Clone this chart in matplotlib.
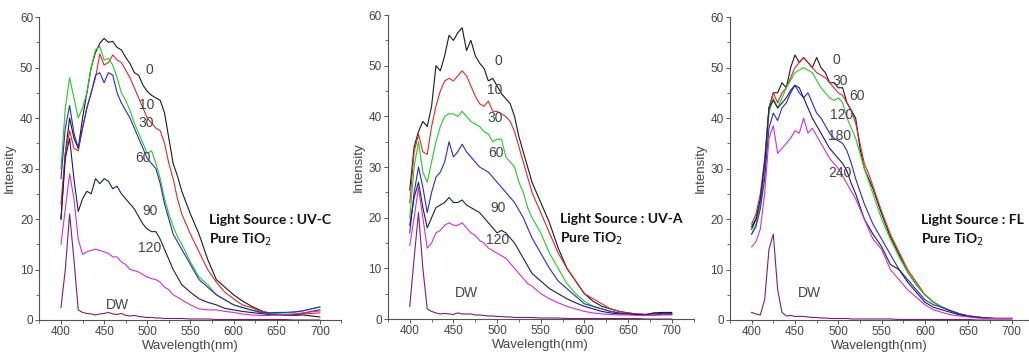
import matplotlib
matplotlib.use('agg')
import matplotlib.pyplot as plt
from matplotlib.ticker import MultipleLocator

plt.rcParams['font.family'] = ['Liberation Sans', 'DejaVu Sans']

# wavelength grid (nm) shared by all curves
wl = list(range(400, 545, 5)) + list(range(550, 710, 10))

# ---- UV-C panel ----
uvc_0 = [20, 33, 40, 36, 34, 40, 45, 50, 53, 54.8, 55.8, 55, 55.2, 54, 53.5, 52, 50.8, 49, 48.5, 46.5, 45.3, 44.5, 44, 43.5, 41, 36, 31, 28.5, 25.5,
         21, 17, 12, 8, 6.5, 5, 3.8, 2.8, 2, 1.3, 1.1, 1, 0.9, 1, 0.8, 0.6]
uvc_10 = [23, 33, 37.5, 34, 33.5, 38, 42, 45, 48, 52.7, 50.5, 51, 52.5, 51.5, 51, 49.5, 48, 46, 44, 42, 40, 39, 38, 37.5, 35, 31, 28, 24, 21,
          17, 13.5, 10, 7.5, 5.5, 4.2, 3, 2.5, 1.8, 1.5, 1.2, 1, 1, 1.2, 1.3, 1.4]
uvc_30 = [30, 42, 48, 44, 40, 42, 45, 50, 53.5, 54.2, 51.5, 51.8, 50.5, 48, 45, 43.5, 41.5, 39, 37, 35, 33, 33.5, 31, 28, 24, 21, 18.5, 16.5, 15,
          11.5, 8.5, 7, 5, 4, 3, 2.5, 2, 1.5, 1.3, 1.3, 1.4, 1.5, 1.8, 2.2, 2.5]
uvc_60 = [28, 38, 42.5, 37, 34, 38, 42, 45, 48.5, 49, 47, 49, 48.5, 45, 43, 41.5, 40, 38, 36, 34, 32, 31, 30, 27, 23, 20, 17, 15.5, 14,
          11, 8, 6.5, 5, 4, 3, 2.5, 2, 1.6, 1.4, 1.5, 1.5, 1.6, 1.8, 2.2, 2.6]
uvc_90 = [20, 32, 36, 28, 21.5, 24, 25.5, 25, 28, 27, 28, 27.5, 26, 26.5, 25, 24, 23, 22, 20.5, 19, 18, 17.5, 17.5, 16, 14, 12, 10, 8.5, 7,
          5.5, 4.2, 3.5, 3, 2.3, 2, 1.7, 1.5, 1.3, 1.1, 1, 1, 1.1, 1.3, 1.7, 2]
uvc_120 = [15, 22, 29, 24, 16, 13, 13.5, 13.8, 14, 13.8, 13.5, 13.2, 12.5, 12.5, 11.5, 11, 10, 9.8, 9.5, 9, 8.5, 8.2, 8, 7.5, 6.5, 6, 5, 4.5, 4,
           3, 2.2, 2, 2, 1.7, 1.5, 1.2, 1, 0.9, 0.9, 1, 1.1, 1.2, 1.4, 1.6, 1.8]
uvc_dw = [2.5, 10, 21, 12, 2, 1.5, 1.3, 1.2, 1, 1.2, 1.3, 1.5, 1.2, 1.1, 1.3, 0.9, 0.8, 0.9, 0.7, 0.6, 0.5, 0.5, 0.4, 0.4, 0.3, 0.3, 0.3, 0.3, 0.3,
          0.2, 0.2, 0.2, 0.1, 0.1, 0.1, 0.1, 0.1, 0.1, 0.1, 0.1, 0.1, 0, 0, 0, 0]

# ---- UV-A panel ----
uva_0 = [25.5, 34, 37, 39, 38, 42, 50, 49, 52, 56, 55, 56.5, 57.5, 53, 55, 52, 50.5, 49.5, 47, 47.5, 46, 44.5, 43.5, 42.5, 40, 36, 33, 30, 27,
         23, 19, 14, 10, 7.5, 5, 3.5, 2.5, 2, 1.5, 1.2, 1, 0.9, 1.2, 1.3, 1.3]
uva_10 = [23, 33, 36.5, 33, 32.5, 38, 42, 45, 47, 47.5, 47, 48, 49, 48, 46, 44, 42.5, 42, 43, 41, 41, 40.5, 40, 39, 37, 34, 31, 28, 25,
          21, 17, 13, 10, 7.5, 5, 4, 3, 2, 1.5, 1.2, 1, 0.9, 0.9, 1, 1]
uva_30 = [20, 30, 35, 29, 27, 31, 35, 38, 40, 40.5, 40.5, 40, 41, 40, 39, 38.5, 38, 37, 36.5, 35, 35.5, 35.5, 32, 31, 30, 27, 25, 22, 20,
          17, 13, 10, 7, 5, 3.5, 2.5, 2, 1.5, 1.2, 1, 0.9, 0.8, 0.8, 0.9, 1]
uva_60 = [17, 25, 30, 26, 21, 25, 28, 29, 31, 35, 32, 33, 34.5, 33, 32, 31, 30, 29.5, 29, 28, 27, 26, 25, 24, 23, 21.5, 20, 18, 16,
          13, 10, 7.5, 6, 4.5, 3, 2.5, 2, 1.5, 1.2, 1, 0.9, 0.8, 0.8, 0.9, 1]
uva_90 = [18.5, 24, 27, 22, 18, 20, 22, 22.5, 23, 24, 23, 23, 23.5, 22.5, 22, 21.5, 21, 20, 19, 18, 17, 17.5, 17, 16, 15, 13.5, 12, 10.5, 9,
          7.5, 6, 5, 4, 3.2, 2.5, 2, 1.5, 1.2, 1, 1, 0.9, 0.8, 1.2, 1, 1]
uva_120 = [14.5, 20, 26, 20, 14, 15, 17, 17.5, 18.5, 19, 18.5, 18.5, 19, 18, 17, 16.5, 15.5, 15, 14, 13.5, 13, 12.5, 12, 11, 10, 9, 8, 7, 6.5,
           5, 4, 3.2, 2.5, 2, 1.5, 1.2, 1, 0.9, 0.8, 0.8, 0.7, 0.7, 0.8, 0.8, 0.8]
uva_dw = [2.5, 12, 21, 10, 2, 1.5, 1.2, 1, 1.1, 1, 0.9, 1.2, 1, 1, 1, 0.8, 0.8, 0.7, 0.6, 0.6, 0.5, 0.5, 0.4, 0.4, 0.3, 0.3, 0.3, 0.3, 0.3,
          0.2, 0.2, 0.2, 0.1, 0.1, 0.1, 0.1, 0.1, 0.1, 0.1, 0.1, 0.1, 0, 0, 0, 0]

# ---- FL panel ----
fl_0 = [18, 20, 23, 30, 42, 45, 45, 47, 46, 50, 52.5, 51, 52, 51, 50, 52, 50, 49, 47, 47, 46, 46, 43, 41.5, 40, 34, 30, 28, 26,
        21, 16.5, 13, 9.5, 7, 5, 3.5, 2.5, 1.8, 1.2, 0.8, 0.6, 0.4, 0.3, 0.3, 0.3]
fl_30 = [19, 21, 25, 32, 42, 45, 43, 45, 46, 48, 50, 51, 52, 51, 50, 49, 48.5, 48, 47, 46, 45, 44.5, 43, 41.5, 39, 35, 31, 29, 26.5,
         21.5, 17, 13.5, 10, 7.5, 5, 3.5, 2.5, 1.8, 1.2, 0.8, 0.6, 0.4, 0.3, 0.3, 0.3]
fl_60 = [17, 19, 23, 30, 41, 44, 42, 44, 46, 47.5, 49, 49.5, 50, 49.5, 49, 47.5, 46, 45, 44, 43.5, 44, 43, 40, 38, 36, 33, 30, 27.5, 25,
         20, 16, 12.5, 9.5, 7, 5, 3.5, 2.5, 1.8, 1.2, 0.8, 0.6, 0.4, 0.3, 0.3, 0.3]
fl_120 = [17, 18.5, 22, 28, 38, 41, 39.5, 42, 43, 45, 46.5, 45, 44, 45, 43, 41, 40, 38.5, 37, 36, 35.5, 35, 33.5, 31, 28, 25.5, 23, 21, 19,
          16, 13, 10, 8, 6, 4, 3, 2.5, 1.8, 1.2, 0.8, 0.6, 0.4, 0.3, 0.3, 0.3]
fl_180 = [18.5, 20, 24, 31, 42, 43.5, 42, 43, 44, 45.5, 46.5, 46, 44, 42, 40, 38.5, 37, 35.5, 34, 33, 32, 31, 29.5, 27, 25, 22.5, 20, 18.5, 17,
          14.5, 11, 10, 7.5, 5.5, 3.5, 2.5, 2, 1.5, 1, 0.7, 0.5, 0.4, 0.3, 0.3, 0.3]
fl_240 = [14.5, 15.5, 18, 25, 36, 38.5, 33, 34, 35, 36, 37.5, 37, 40, 37, 38, 36.5, 35, 33.5, 32, 31, 30, 28.5, 27, 25.5, 24, 22, 20, 18, 16,
          14, 10, 8, 6, 4.5, 3, 2, 1.5, 1, 0.8, 0.6, 0.4, 0.3, 0.3, 0.3, 0.3]
fl_dw = [1.5, 1.2, 1, 4, 14, 17, 6, 1.5, 0.8, 0.9, 0.7, 0.7, 0.7, 0.6, 0.5, 0.5, 0.4, 0.4, 0.3, 0.3, 0.3, 0.3, 0.3, 0.2, 0.2, 0.2, 0.2, 0.2, 0.2,
         0.2, 0.2, 0.1, 0.1, 0.1, 0.1, 0.1, 0.1, 0.1, 0.1, 0.1, 0, 0, 0, 0, 0]

colors = ['#1a1a1a', '#e02828', '#22cc22', '#2a2ad0', '#1c1c5e', '#d030d0', '#7a1f70']

panels = [
    dict(rect=[0.0383, 0.1136, 0.2935, 0.839], xmax=725,
         curves=[uvc_0, uvc_10, uvc_30, uvc_60, uvc_90, uvc_120, uvc_dw],
         labels=[('0', 503, 49.6), ('10', 499, 42.6), ('30', 499, 39), ('60', 495, 32),
                 ('90', 503, 21.5), ('120', 503, 14.2), ('DW', 466, 3)],
         source='Light Source : UV-C', tx=572),
    dict(rect=[0.377, 0.1163, 0.297, 0.842], xmax=725,
         curves=[uva_0, uva_10, uva_30, uva_60, uva_90, uva_120, uva_dw],
         labels=[('0', 501, 50.9), ('10', 497.5, 45.2), ('30', 497.5, 39.6), ('60', 499, 32.7),
                 ('90', 501, 21.9), ('120', 501, 15.6), ('DW', 465, 5.1)],
         source='Light Source : UV-A', tx=572),
    dict(rect=[0.7094, 0.1136, 0.2906, 0.839], xmax=720,
         curves=[fl_0, fl_30, fl_60, fl_120, fl_180, fl_240, fl_dw],
         labels=[('0', 498, 51.6), ('30', 502, 47.3), ('60', 521, 44.3), ('120', 504, 40.6),
                 ('180', 502, 36.4), ('240', 502, 29.1), ('DW', 467, 5.3)],
         source='Light Source : FL', tx=595),
]

boldfont = ['Lato', 'Liberation Sans', 'DejaVu Sans']

fig = plt.figure(figsize=(10.29, 3.61), dpi=100)
for p in panels:
    ax = fig.add_axes(p['rect'])
    for y, c in zip(p['curves'], colors):
        ax.plot(wl, y, color=c, lw=0.8)
    for t, x, y in p['labels']:
        ax.text(x, y, t, ha='center', va='center', fontsize=10, color='#444444')
    ax.text(p['tx'], 19.8, p['source'], ha='left', va='center', fontsize=10,
            fontweight='bold', color='#111111', family=boldfont)
    ax.text(p['tx'], 15.9, 'Pure TiO$_2$', ha='left', va='center', fontsize=10,
            fontweight='bold', color='#111111', family=boldfont)
    ax.set_xlim(375, p['xmax'])
    ax.set_ylim(0, 60)
    ax.xaxis.set_minor_locator(MultipleLocator(25))
    ax.yaxis.set_major_locator(MultipleLocator(10))
    ax.yaxis.set_minor_locator(MultipleLocator(5))
    ax.set_xticks(range(400, 701, 50))
    ax.spines['top'].set_visible(False)
    ax.spines['right'].set_visible(False)
    for s in ('left', 'bottom'):
        ax.spines[s].set_color('#555555')
        ax.spines[s].set_linewidth(0.8)
    ax.tick_params(which='major', length=3, width=0.7, colors='#555555', labelsize=8.5,
                   labelcolor='#444444', pad=1.5)
    ax.tick_params(which='minor', length=2, width=0.6, colors='#555555')
    ax.set_xlabel('Wavelength(nm)', fontsize=9.5, color='#444444', labelpad=1)
    ax.set_ylabel('Intensity', fontsize=9.5, color='#444444', labelpad=3)

fig.savefig('out.png', dpi=100)
